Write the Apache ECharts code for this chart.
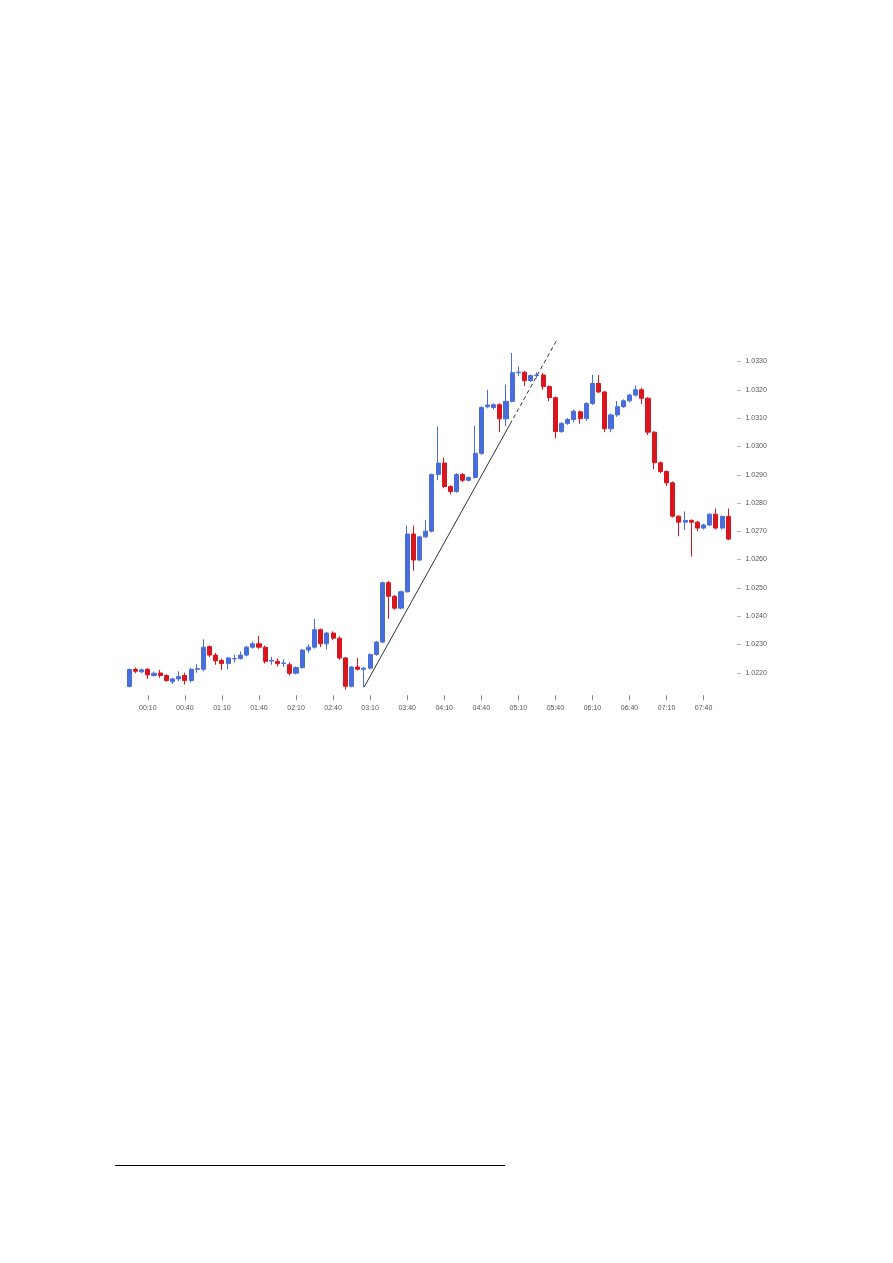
<!DOCTYPE html>
<html>
<head>
<meta charset="utf-8">
<script src="https://cdn.jsdelivr.net/npm/echarts@6/dist/echarts.min.js"></script>
<style>
html,body{margin:0;padding:0;background:#fff;}
#c{position:absolute;left:0;top:0;width:893px;height:1263px;}
</style>
</head>
<body>
<div id="c"></div>
<script>
// 5-minute candles, 23:55 .. 08:00
const times = ["23:55","00:00","00:05","00:10","00:15","00:20","00:25","00:30","00:35","00:40","00:45","00:50","00:55",
"01:00","01:05","01:10","01:15","01:20","01:25","01:30","01:35","01:40","01:45","01:50","01:55",
"02:00","02:05","02:10","02:15","02:20","02:25","02:30","02:35","02:40","02:45","02:50","02:55",
"03:00","03:05","03:10","03:15","03:20","03:25","03:30","03:35","03:40","03:45","03:50","03:55",
"04:00","04:05","04:10","04:15","04:20","04:25","04:30","04:35","04:40","04:45","04:50","04:55",
"05:00","05:05","05:10","05:15","05:20","05:25","05:30","05:35","05:40","05:45","05:50","05:55",
"06:00","06:05","06:10","06:15","06:20","06:25","06:30","06:35","06:40","06:45","06:50","06:55",
"07:00","07:05","07:10","07:15","07:20","07:25","07:30","07:35","07:40","07:45","07:50","07:55","08:00"];

const shownTimes = ["00:10","00:40","01:10","01:40","02:10","02:40","03:10","03:40","04:10","04:40","05:10","05:40","06:10","06:40","07:10","07:40"];

const openP = [1.02151,1.02212,1.02203,1.02212,1.02190,1.02199,1.02190,1.02168,1.02178,1.02190,1.02172,1.02212,1.02212,
1.02292,1.02262,1.02243,1.02232,1.02249,1.02250,1.02262,1.02290,1.02302,1.02290,1.02241,1.02240,
1.02233,1.02228,1.02198,1.02218,1.02280,1.02290,1.02352,1.02302,1.02340,1.02322,1.02252,1.02152,
1.02220,1.02212,1.02216,1.02264,1.02308,1.02518,1.02470,1.02428,1.02486,1.02690,1.02598,1.02680,
1.02700,1.02900,1.02941,1.02858,1.02840,1.02900,1.02880,1.02890,1.02975,1.03140,1.03137,1.03147,
1.03097,1.03159,1.03260,1.03262,1.03232,1.03250,1.03252,1.03211,1.03172,1.03052,1.03081,1.03095,
1.03122,1.03098,1.03151,1.03222,1.03192,1.03062,1.03111,1.03140,1.03161,1.03181,1.03200,1.03170,
1.03050,1.02942,1.02911,1.02871,1.02753,1.02732,1.02738,1.02732,1.02711,1.02722,1.02760,1.02711,1.02752];

const closeP = [1.02211,1.02205,1.02210,1.02192,1.02198,1.02190,1.02172,1.02178,1.02186,1.02172,1.02212,1.02214,1.02290,
1.02262,1.02242,1.02232,1.02252,1.02250,1.02262,1.02290,1.02302,1.02290,1.02240,1.02243,1.02232,
1.02234,1.02198,1.02218,1.02280,1.02290,1.02352,1.02302,1.02340,1.02322,1.02252,1.02152,1.02220,
1.02212,1.02216,1.02264,1.02308,1.02518,1.02470,1.02428,1.02486,1.02690,1.02598,1.02680,1.02700,
1.02900,1.02941,1.02858,1.02840,1.02900,1.02880,1.02890,1.02975,1.03137,1.03146,1.03147,1.03097,
1.03159,1.03260,1.03262,1.03232,1.03250,1.03252,1.03211,1.03172,1.03052,1.03081,1.03095,1.03124,
1.03098,1.03151,1.03222,1.03192,1.03062,1.03111,1.03140,1.03161,1.03181,1.03200,1.03170,1.03050,
1.02942,1.02911,1.02871,1.02753,1.02732,1.02738,1.02732,1.02711,1.02722,1.02760,1.02711,1.02752,1.02672];

const lowP = [1.02148,1.02198,1.02198,1.02178,1.02186,1.02182,1.02168,1.02160,1.02170,1.02158,1.02165,1.02200,1.02205,
1.02255,1.02228,1.02210,1.02212,1.02236,1.02246,1.02258,1.02285,1.02284,1.02232,1.02228,1.02222,
1.02220,1.02190,1.02194,1.02214,1.02270,1.02285,1.02290,1.02282,1.02316,1.02245,1.02140,1.02148,
1.02208,1.02150,1.02212,1.02260,1.02304,1.02390,1.02422,1.02424,1.02482,1.02560,1.02594,1.02676,
1.02696,1.02880,1.02852,1.02830,1.02836,1.02874,1.02876,1.02886,1.02970,1.03134,1.03130,1.03050,
1.03071,1.03155,1.03248,1.03213,1.03228,1.03240,1.03200,1.03160,1.03028,1.03048,1.03076,1.03085,
1.03080,1.03090,1.03146,1.03188,1.03050,1.03050,1.03104,1.03136,1.03156,1.03176,1.03150,1.03040,
1.02920,1.02905,1.02860,1.02748,1.02682,1.02705,1.02610,1.02700,1.02706,1.02718,1.02706,1.02706,1.02668];

const highP = [1.02215,1.02218,1.02214,1.02216,1.02204,1.02210,1.02194,1.02182,1.02205,1.02200,1.02216,1.02230,1.02318,
1.02296,1.02270,1.02250,1.02256,1.02264,1.02275,1.02295,1.02310,1.02330,1.02296,1.02256,1.02250,
1.02248,1.02236,1.02222,1.02284,1.02300,1.02390,1.02356,1.02344,1.02346,1.02328,1.02256,1.02224,
1.02252,1.02220,1.02268,1.02312,1.02522,1.02524,1.02474,1.02490,1.02720,1.02720,1.02684,1.02740,
1.02904,1.03070,1.02960,1.02862,1.02905,1.02906,1.02894,1.03072,1.03142,1.03200,1.03152,1.03152,
1.03218,1.03330,1.03283,1.03266,1.03254,1.03262,1.03260,1.03215,1.03176,1.03085,1.03100,1.03130,
1.03126,1.03156,1.03252,1.03252,1.03196,1.03116,1.03160,1.03166,1.03186,1.03215,1.03206,1.03174,
1.03054,1.02946,1.02915,1.02876,1.02756,1.02770,1.02742,1.02736,1.02726,1.02764,1.02780,1.02756,1.02780];

const priceTicks = [1.0220,1.0230,1.0240,1.0250,1.0260,1.0270,1.0280,1.0290,1.0300,1.0310,1.0320,1.0330];

// trend line (x = candle index, y = price)
const trendSolid = [[38, 1.02148], [61.65, 1.03078]];
const trendDashed = [[61.65, 1.03078], [69.26, 1.03377]];

const candles = openP.map((o, i) => [o, closeP[i], lowP[i], highP[i]]);

const chart = echarts.init(document.getElementById('c'), null, {renderer: 'canvas'});
const FONT = 'Liberation Sans, Arial, sans-serif';

chart.setOption({
  backgroundColor: '#fff',
  animation: false,
  grid: {left: 126.2, right: 161.6, top: 338.8, bottom: 1263 - 695.3},
  xAxis: [{
    type: 'category',
    data: times,
    boundaryGap: true,
    axisLine: {show: false},
    axisTick: {show: true, alignWithLabel: true, length: 5, lineStyle: {color: '#888', width: 1},
      interval: (i, v) => shownTimes.indexOf(v) >= 0},
    axisLabel: {margin: 9, fontFamily: FONT, fontSize: 7, color: '#555',
      interval: (i, v) => shownTimes.indexOf(v) >= 0},
    splitLine: {show: false}
  }, {
    type: 'value', min: -0.5, max: 97.5, show: false
  }],
  yAxis: {
    type: 'value',
    position: 'right',
    min: 1.0212, max: 1.0338,
    axisLine: {show: false},
    axisTick: {show: false},
    axisLabel: {
      margin: 5.5, customValues: priceTicks, fontFamily: FONT, fontSize: 7, color: '#555',
      formatter: v => '{d|–}{v|' + v.toFixed(4) + '}',
      rich: {
        d: {width: 8.5, color: '#777', fontSize: 7, fontFamily: FONT},
        v: {color: '#555', fontSize: 7, fontFamily: FONT}
      }
    },
    splitLine: {show: false}
  },
  series: [{
    type: 'candlestick',
    data: candles,
    barWidth: '74%',
    itemStyle: {
      color: '#4a6ddc', color0: '#d8161f',
      borderColor: '#4a6ddc', borderColor0: '#d8161f', borderWidth: 1
    }
  }, {
    type: 'line', xAxisIndex: 1, data: trendSolid, symbol: 'none',
    lineStyle: {color: '#333', width: 1}
  }, {
    type: 'line', xAxisIndex: 1, data: trendDashed, symbol: 'none',
    lineStyle: {color: '#333', width: 1, type: [4, 3]}
  }],
  graphic: [{
    type: 'line', shape: {x1: 115, y1: 1165.5, x2: 505, y2: 1165.5},
    style: {stroke: '#000', lineWidth: 1}
  }]
});
</script>
</body>
</html>
